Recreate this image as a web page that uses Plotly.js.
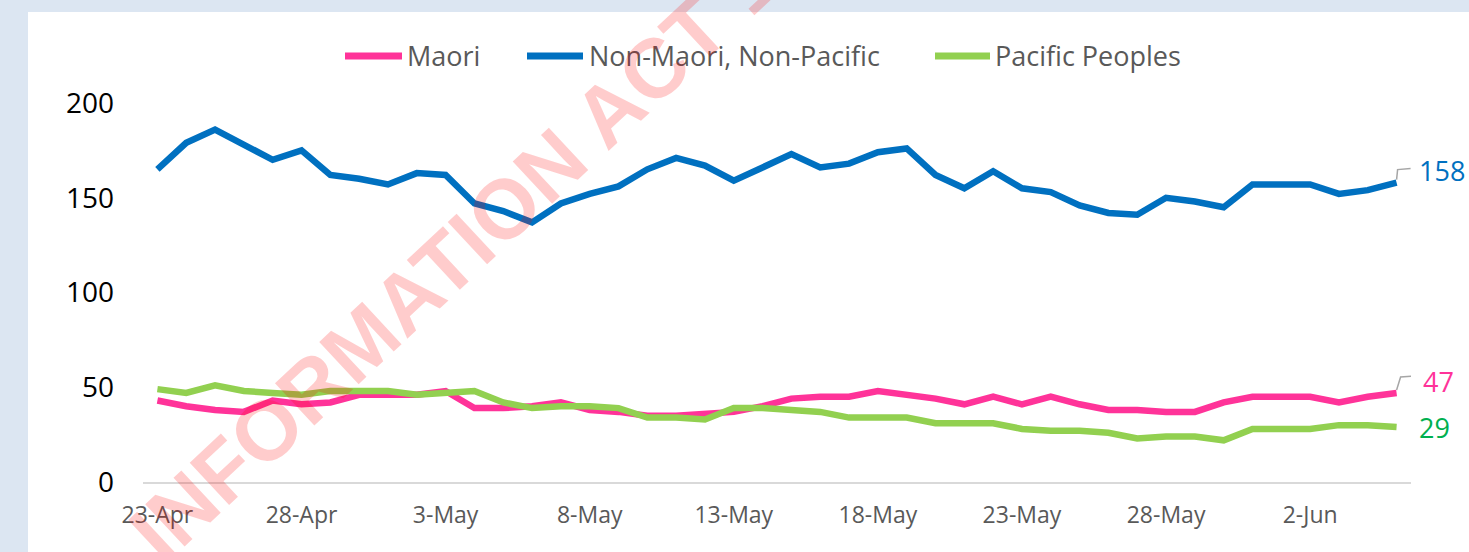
<!DOCTYPE html>
<html>
<head>
<meta charset="utf-8">
<script src="https://cdn.plot.ly/plotly-3.0.1.min.js"></script>
<style>
  html, body { margin: 0; padding: 0; background: #dce6f2; }
  #chart { width: 1469px; height: 552px; }
</style>
</head>
<body>
<div id="chart"></div>
<script>
// ---- data ----
const dates = ['23-Apr','24-Apr','25-Apr','26-Apr','27-Apr','28-Apr','29-Apr','30-Apr',
  '1-May','2-May','3-May','4-May','5-May','6-May','7-May','8-May','9-May','10-May',
  '11-May','12-May','13-May','14-May','15-May','16-May','17-May','18-May','19-May',
  '20-May','21-May','22-May','23-May','24-May','25-May','26-May','27-May','28-May',
  '29-May','30-May','31-May','1-Jun','2-Jun','3-Jun','4-Jun','5-Jun'];

const maori = [43,40,38,37,43,41,42,46,46,46,
               48,39,39,40,42,38,37,35,35,36,
               37,40,44,45,45,48,46,44,41,45,
               41,45,41,38,38,37,37,42,45,45,
               45,42,45,47];

const nonMaoriNonPacific = [165,179,186,178,170,175,162,160,157,163,
                            162,147,143,137,147,152,156,165,171,167,
                            159,166,173,166,168,174,176,162,155,164,
                            155,153,146,142,141,150,148,145,157,157,
                            157,152,154,158];

const pacific = [49,47,51,48,47,46,48,48,48,46,
                 47,48,42,39,40,40,39,34,34,33,
                 39,39,38,37,34,34,34,31,31,31,
                 28,27,27,26,23,24,24,22,28,28,
                 28,30,30,29];

const seriesNames = ['Maori', 'Non-Maori, Non-Pacific', 'Pacific Peoples'];
const tickLabels = ['23-Apr','28-Apr','3-May','8-May','13-May','18-May','23-May','28-May','2-Jun'];
const yTicks = [0, 50, 100, 150, 200];

// ---- styles ----
const colors = ['#ff3399', '#0070c0', '#92d050'];
const labelColors = ['#ff3399', '#0070c0', '#00b050'];
const seriesValues = [maori, nonMaoriNonPacific, pacific];
const FONT = '"Open Sans", "Segoe UI", sans-serif';

// plot-area geometry (px) used only to place decorations in paper coords
const PL = 143, PR = 1411, PT = 103, PB = 482;
const px2x = p => (p - PL) / (PR - PL);
const py2y = p => (PB - p) / (PB - PT);

const traces = seriesValues.map((vals, i) => ({
  type: 'scatter', mode: 'lines', name: seriesNames[i],
  x: dates, y: vals,
  line: { color: colors[i], width: 6.5 },
  showlegend: false, hoverinfo: 'x+y+name'
}));

const last = dates.length - 1;

// manual legend
const legendItems = [
  { x0: 345, x1: 402, tx: 405 },
  { x0: 527, x1: 583, tx: 587 },
  { x0: 935, x1: 990, tx: 993 }
];
const legendY = 56;

const shapes = [
  { type: 'rect', xref: 'paper', yref: 'paper', layer: 'below',
    x0: px2x(28), x1: px2x(1480), y0: py2y(560), y1: py2y(12),
    fillcolor: '#ffffff', line: { width: 0 } }
];
legendItems.forEach((it, i) => {
  shapes.push({ type: 'line', xref: 'paper', yref: 'paper',
    x0: px2x(it.x0), x1: px2x(it.x1), y0: py2y(legendY), y1: py2y(legendY),
    line: { color: colors[i], width: 7 } });
});
// leader lines for end labels of Maori and Non-Maori
shapes.push({ type: 'path', xref: 'x', yref: 'y', xsizemode: 'pixel', ysizemode: 'pixel',
  xanchor: dates[last], yanchor: nonMaoriNonPacific[last],
  path: 'M0,3 L1,13 L14,14', line: { color: '#a6a6a6', width: 1.5 } });
shapes.push({ type: 'path', xref: 'x', yref: 'y', xsizemode: 'pixel', ysizemode: 'pixel',
  xanchor: dates[last], yanchor: maori[last],
  path: 'M0,3 L4,16 L18,17', line: { color: '#a6a6a6', width: 1.5 } });

const annotations = [];
legendItems.forEach((it, i) => {
  annotations.push({ xref: 'paper', yref: 'paper', x: px2x(it.tx), y: py2y(legendY),
    xanchor: 'left', yanchor: 'middle', showarrow: false, text: seriesNames[i],
    font: { family: FONT, size: 27, color: '#595959' } });
});
// end-value labels
const endShift = [ {xs: 42, ys: 11}, {xs: 45, ys: 12}, {xs: 38, ys: 0} ];
seriesValues.forEach((vals, i) => {
  annotations.push({ x: dates[last], y: vals[last], xref: 'x', yref: 'y',
    text: String(vals[last]), showarrow: false, xanchor: 'center', yanchor: 'middle',
    xshift: endShift[i].xs, yshift: endShift[i].ys,
    font: { family: FONT, size: 27, color: labelColors[i] } });
});
// watermark
annotations.push({ xref: 'paper', yref: 'paper', x: px2x(505), y: py2y(208),
  text: 'INFORMATION ACT 1982', showarrow: false, textangle: -43,
  xanchor: 'center', yanchor: 'middle',
  font: { family: '"Liberation Sans", Arial, sans-serif', size: 84, color: 'rgba(255,0,0,0.2)', weight: 'bold' } });

const layout = {
  width: 1469, height: 552,
  margin: { l: PL, r: 1469 - PR, t: PT, b: 552 - PB, pad: 0 },
  paper_bgcolor: '#dce6f2',
  plot_bgcolor: 'rgba(0,0,0,0)',
  showlegend: false,
  xaxis: {
    type: 'category', range: [-0.5, dates.length - 0.5],
    tickmode: 'array', tickvals: tickLabels, ticktext: tickLabels,
    ticks: '', showgrid: false, zeroline: false,
    showline: true, linecolor: '#d9d9d9', linewidth: 2,
    ticklabelstandoff: 11,
    tickfont: { family: FONT, size: 23, color: '#595959' }
  },
  yaxis: {
    range: [0, 200], tickmode: 'array', tickvals: yTicks,
    ticks: '', showgrid: false, zeroline: false, showline: false,
    ticklabelstandoff: 28,
    tickfont: { family: FONT, size: 28, color: '#000000' }
  },
  shapes: shapes,
  annotations: annotations
};

Plotly.newPlot('chart', traces, layout, { displayModeBar: false, staticPlot: true });
</script>
</body>
</html>
